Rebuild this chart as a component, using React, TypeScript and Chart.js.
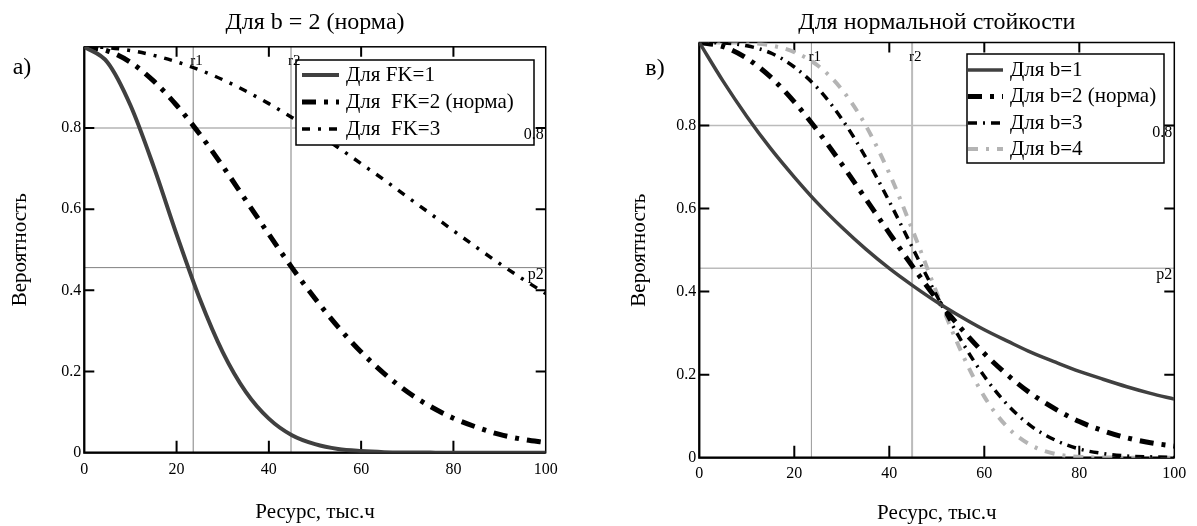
import React, { useEffect, useRef } from "react";
import { Chart, registerables } from "chart.js";

Chart.register(...registerables);

const SERIF = "'Liberation Serif', 'Times New Roman', Times, serif";

// ---------- data ----------
const resourceX = [0, 5, 10, 15, 20, 25, 30, 35, 40, 45, 50, 55, 60, 65, 70, 75, 80, 85, 90, 95, 100];
const xTickValues = [0, 20, 40, 60, 80, 100];
const yTickValues = [0, 0.2, 0.4, 0.6, 0.8];

const leftTitle = "Для b = 2 (норма)";
const leftLetter = "а)";
const leftLabels = ["Для FK=1", "Для  FK=2 (норма)", "Для  FK=3"];
const leftFK1 = [1, 0.962, 0.856, 0.706, 0.538, 0.38, 0.248, 0.15, 0.084, 0.043, 0.021, 0.009, 0.004, 0.0014, 0.0005, 0.0002, 0, 0, 0, 0, 0];
const leftFK2 = [1, 0.99, 0.962, 0.916, 0.856, 0.785, 0.706, 0.622, 0.538, 0.456, 0.38, 0.31, 0.248, 0.195, 0.15, 0.114, 0.085, 0.063, 0.045, 0.033, 0.025];
const leftFK3 = [1, 0.998, 0.991, 0.979, 0.963, 0.943, 0.919, 0.891, 0.86, 0.826, 0.79, 0.752, 0.712, 0.672, 0.63, 0.589, 0.547, 0.506, 0.466, 0.428, 0.392];

const rightTitle = "Для нормальной стойкости";
const rightLetter = "в)";
const rightLabels = ["Для b=1", "Для b=2 (норма)", "Для b=3", "Для b=4"];
const rightB1 = [1, 0.907, 0.822, 0.745, 0.676, 0.612, 0.555, 0.503, 0.456, 0.414, 0.375, 0.34, 0.308, 0.28, 0.253, 0.23, 0.208, 0.189, 0.171, 0.155, 0.141];
const rightB2 = [1, 0.99, 0.962, 0.917, 0.857, 0.786, 0.707, 0.624, 0.541, 0.459, 0.382, 0.313, 0.251, 0.198, 0.153, 0.117, 0.087, 0.065, 0.048, 0.036, 0.028];
const rightB3 = [1, 0.999, 0.992, 0.975, 0.941, 0.889, 0.816, 0.724, 0.617, 0.503, 0.39, 0.285, 0.196, 0.126, 0.075, 0.042, 0.021, 0.01, 0.004, 0.002, 0.0005];
const rightB4 = [1, 1, 0.999, 0.993, 0.977, 0.944, 0.887, 0.801, 0.685, 0.545, 0.397, 0.259, 0.147, 0.072, 0.029, 0.009, 0.002, 0.0005, 0, 0, 0];

const markerNames = ["r1", "r2"];
const markerResource = [23.6, 44.8];
const levelNames = ["0.8", "p2"];
const levelValues = [0.8, 0.456];

// ---------- helpers ----------
const pts = (ys: number[]) => resourceX.map((x, i) => ({ x, y: ys[i] }));

type LineStyle = { color: string; width: number };
type DecorCfg = {
  title: string;
  letter: string;
  letterX: number;
  letterY: number;
  vStyles: LineStyle[];
  hStyles: LineStyle[];
  legend: { x: number; y: number; w: number; h: number; rows: number[]; lx0: number; lx1: number; tx: number };
};

function decorPlugin(cfg: DecorCfg) {
  return {
    id: "decor",
    beforeDatasetsDraw(chart: any) {
      const { ctx, chartArea: a } = chart;
      const xs = chart.scales.x;
      const ys = chart.scales.y;
      ctx.save();
      // reference lines
      markerResource.forEach((v, i) => {
        const px = xs.getPixelForValue(v);
        ctx.strokeStyle = cfg.vStyles[i].color;
        ctx.lineWidth = cfg.vStyles[i].width;
        ctx.beginPath();
        ctx.moveTo(px, a.top);
        ctx.lineTo(px, a.bottom);
        ctx.stroke();
      });
      levelValues.forEach((v, i) => {
        const py = ys.getPixelForValue(v);
        ctx.strokeStyle = cfg.hStyles[i].color;
        ctx.lineWidth = cfg.hStyles[i].width;
        ctx.beginPath();
        ctx.moveTo(a.left, py);
        ctx.lineTo(a.right, py);
        ctx.stroke();
      });
      // inward tick marks
      ctx.strokeStyle = "#000";
      ctx.lineWidth = 2;
      xTickValues.slice(1, -1).forEach((v) => {
        const px = xs.getPixelForValue(v);
        ctx.beginPath();
        ctx.moveTo(px, a.bottom);
        ctx.lineTo(px, a.bottom - 12);
        ctx.moveTo(px, a.top);
        ctx.lineTo(px, a.top + 10);
        ctx.stroke();
      });
      yTickValues.slice(1).forEach((v) => {
        const py = ys.getPixelForValue(v);
        ctx.beginPath();
        ctx.moveTo(a.left, py);
        ctx.lineTo(a.left + 10, py);
        ctx.moveTo(a.right, py);
        ctx.lineTo(a.right - 10, py);
        ctx.stroke();
      });
      // frame
      ctx.lineWidth = 1.5;
      ctx.strokeRect(a.left, a.top, a.right - a.left, a.bottom - a.top);
      ctx.lineWidth = 2.2;
      ctx.beginPath();
      ctx.moveTo(a.left, a.top);
      ctx.lineTo(a.left, a.bottom);
      ctx.lineTo(a.right, a.bottom);
      ctx.stroke();
      ctx.restore();
    },
    afterDatasetsDraw(chart: any) {
      const { ctx, chartArea: a } = chart;
      const xs = chart.scales.x;
      const ys = chart.scales.y;
      ctx.save();
      // legend
      const L = cfg.legend;
      ctx.fillStyle = "#fff";
      ctx.fillRect(L.x, L.y, L.w, L.h);
      ctx.strokeStyle = "#000";
      ctx.lineWidth = 1.5;
      ctx.strokeRect(L.x, L.y, L.w, L.h);
      chart.data.datasets.forEach((ds: any, i: number) => {
        const y = L.rows[i];
        ctx.save();
        ctx.strokeStyle = ds.borderColor;
        ctx.lineWidth = ds.borderWidth;
        ctx.setLineDash(ds.borderDash || []);
        ctx.beginPath();
        ctx.moveTo(L.lx0, y);
        ctx.lineTo(L.lx1, y);
        ctx.stroke();
        ctx.restore();
        ctx.fillStyle = "#000";
        ctx.font = `21px ${SERIF}`;
        ctx.textAlign = "left";
        ctx.textBaseline = "middle";
        ctx.fillText(ds.label, L.tx, y);
      });
      // marker labels
      ctx.fillStyle = "#000";
      ctx.font = `15px ${SERIF}`;
      ctx.textAlign = "left";
      ctx.textBaseline = "alphabetic";
      markerResource.forEach((v, i) => {
        const px = xs.getPixelForValue(v);
        ctx.fillText(markerNames[i], px - 3, a.top + 18);
      });
      ctx.font = `16px ${SERIF}`;
      ctx.textAlign = "right";
      levelValues.forEach((v, i) => {
        const py = ys.getPixelForValue(v);
        ctx.fillText(levelNames[i], a.right - 2, py + 11);
      });
      // title
      ctx.font = `24px ${SERIF}`;
      ctx.textAlign = "center";
      ctx.textBaseline = "middle";
      ctx.fillText(cfg.title, (a.left + a.right) / 2, 23);
      // letter
      ctx.font = `24px ${SERIF}`;
      ctx.fillText(cfg.letter, cfg.letterX, cfg.letterY);
      ctx.restore();
    },
  };
}

type PanelCfg = {
  width: number;
  yWidth: number;
  xHeight: number;
  padTop: number;
  padRight: number;
  yTitlePad: number;
  xTitlePad: number;
  xTickPad: number;
  datasets: any[];
  decor: DecorCfg;
};

function buildConfig(p: PanelCfg): any {
  const tickFont = { family: SERIF, size: 16 };
  const titleFont = { family: SERIF, size: 21 };
  return {
    type: "line",
    data: { datasets: p.datasets },
    options: {
      responsive: false,
      animation: false,
      devicePixelRatio: 1,
      layout: { padding: { top: p.padTop, right: p.padRight, left: 0, bottom: 0 } },
      plugins: { legend: { display: false }, title: { display: false }, tooltip: { enabled: false } },
      elements: { point: { radius: 0 } },
      scales: {
        x: {
          type: "linear",
          min: 0,
          max: 100,
          afterBuildTicks: (s: any) => {
            s.ticks = xTickValues.map((v) => ({ value: v }));
          },
          ticks: { font: tickFont, color: "#000", padding: p.xTickPad, maxRotation: 0, autoSkip: false },
          grid: { display: false, drawTicks: false },
          border: { display: false },
          title: { display: true, text: "Ресурс, тыс.ч", font: titleFont, color: "#000", padding: { top: 0, bottom: p.xTitlePad } },
          afterFit: (s: any) => {
            s.height = p.xHeight;
          },
        },
        y: {
          type: "linear",
          min: 0,
          max: 1,
          afterBuildTicks: (s: any) => {
            s.ticks = yTickValues.map((v) => ({ value: v }));
          },
          ticks: {
            font: tickFont,
            color: "#000",
            padding: 3,
            autoSkip: false,
            callback: (v: number) => String(Math.round(v * 10) / 10),
          },
          grid: { display: false, drawTicks: false },
          border: { display: false },
          title: { display: true, text: "Вероятность", font: titleFont, color: "#000", padding: { top: p.yTitlePad, bottom: 0 } },
          afterFit: (s: any) => {
            s.width = p.yWidth;
          },
        },
      },
    },
    plugins: [decorPlugin(p.decor)],
  };
}

const lineBase = { fill: false, pointRadius: 0, cubicInterpolationMode: "monotone", borderCapStyle: "butt", borderJoinStyle: "round" };

const leftPanel: PanelCfg = {
  width: 598,
  yWidth: 84.3,
  xHeight: 73.3,
  padTop: 46.8,
  padRight: 52.3,
  yTitlePad: 7.4,
  xTitlePad: 1,
  xTickPad: 7,
  datasets: [
    { ...lineBase, label: leftLabels[0], data: pts(leftFK1), borderColor: "#404040", borderWidth: 4, borderDash: [] },
    { ...lineBase, label: leftLabels[1], data: pts(leftFK2), borderColor: "#000000", borderWidth: 5, borderDash: [14, 8, 4, 8] },
    { ...lineBase, label: leftLabels[2], data: pts(leftFK3), borderColor: "#000000", borderWidth: 3.5, borderDash: [8, 8, 3, 8] },
  ],
  decor: {
    title: leftTitle,
    letter: leftLetter,
    letterX: 22,
    letterY: 68,
    vStyles: [
      { color: "#808080", width: 1 },
      { color: "#808080", width: 1 },
    ],
    hStyles: [
      { color: "#b4b4b4", width: 1.5 },
      { color: "#808080", width: 1 },
    ],
    legend: { x: 296, y: 60, w: 238, h: 85, rows: [75, 102, 129], lx0: 302, lx1: 339, tx: 346 },
  },
};

const rightPanel: PanelCfg = {
  width: 599,
  yWidth: 101.3,
  xHeight: 68.3,
  padTop: 42.5,
  padRight: 22.7,
  yTitlePad: 28.9,
  xTitlePad: 0,
  xTickPad: 6,
  datasets: [
    { ...lineBase, label: rightLabels[0], data: pts(rightB1), borderColor: "#404040", borderWidth: 3.5, borderDash: [] },
    { ...lineBase, label: rightLabels[1], data: pts(rightB2), borderColor: "#000000", borderWidth: 5, borderDash: [14, 8, 4, 8] },
    { ...lineBase, label: rightLabels[2], data: pts(rightB3), borderColor: "#000000", borderWidth: 3.5, borderDash: [9, 6, 2, 6] },
    { ...lineBase, label: rightLabels[3], data: pts(rightB4), borderColor: "#b4b4b4", borderWidth: 4, borderDash: [10, 8, 3, 8] },
  ],
  decor: {
    title: rightTitle,
    letter: rightLetter,
    letterX: 57,
    letterY: 69,
    vStyles: [
      { color: "#999999", width: 1 },
      { color: "#bbbbbb", width: 2 },
    ],
    hStyles: [
      { color: "#bbbbbb", width: 1.5 },
      { color: "#bbbbbb", width: 1.5 },
    ],
    legend: { x: 369, y: 54, w: 197, h: 109, rows: [70, 96.5, 123, 149], lx0: 370, lx1: 405, tx: 412 },
  },
};

function Panel({ cfg, left }: { cfg: PanelCfg; left: number }) {
  const ref = useRef<HTMLCanvasElement>(null);
  useEffect(() => {
    if (!ref.current) return;
    const chart = new Chart(ref.current, buildConfig(cfg));
    return () => chart.destroy();
  }, [cfg]);
  return (
    <canvas
      ref={ref}
      width={cfg.width}
      height={526}
      style={{ position: "absolute", left, top: 0, width: cfg.width, height: 526 }}
    />
  );
}

export default function App() {
  return (
    <div style={{ position: "absolute", left: 0, top: 0, width: 1197, height: 526, background: "#fff" }}>
      <Panel cfg={leftPanel} left={0} />
      <Panel cfg={rightPanel} left={598} />
    </div>
  );
}
